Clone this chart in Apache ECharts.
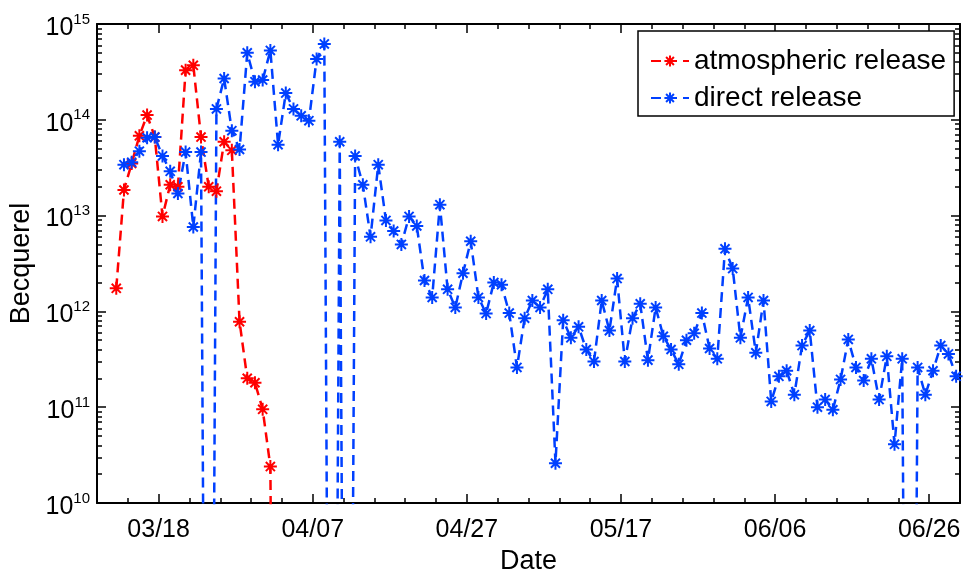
<!DOCTYPE html>
<html>
<head>
<meta charset="utf-8">
<script src="https://cdn.jsdelivr.net/npm/echarts@6/dist/echarts.min.js"></script>
<style>
  html, body { margin: 0; padding: 0; background: #fff; }
  #chart { width: 964px; height: 576px; }
</style>
</head>
<body>
<div id="chart"></div>
<script>
// daily values in Bq, first value on the start date; 1 = nothing measurable (falls off the axis)
const atmStart = '2011-03-12'
const atmValues = [1.74e12, 1.85e13, 3.5e13, 6.8e13, 1.12e14, 6.6e13, 9.8e12, 2.1e13, 2.0e13, 3.3e14,
  3.7e14, 6.6e13, 2.0e13, 1.8e13, 5.9e13, 4.8e13, 7.8e11, 2.0e11, 1.8e11, 9.5e10, 2.4e10, 1]

const dirStart = '2011-03-13'
const dirMar = [3.4e13, 3.6e13, 4.7e13, 6.5e13, 6.6e13, 4.2e13, 2.9e13, 1.7e13, 4.6e13, 7.6e12,
  4.6e13, 1, 1.3e14, 2.7e14, 7.7e13, 4.9e13, 5.0e14, 2.5e14, 2.6e14]
const dirApr = [5.3e14, 5.5e13, 1.9e14, 1.3e14, 1.1e14, 9.8e13, 4.3e14, 6.2e14, 1, 5.9e13,
  1, 4.2e13, 2.1e13, 6.0e12, 3.4e13, 8.9e12, 6.9e12, 5.0e12, 9.8e12, 7.8e12,
  2.1e12, 1.4e12, 1.3e13, 1.7e12, 1.1e12, 2.5e12, 5.4e12, 1.4e12, 9.5e11, 2.0e12]
const dirMay = [1.9e12, 9.6e11, 2.6e11, 8.5e11, 1.3e12, 1.1e12, 1.7e12, 2.6e10, 8.1e11, 5.3e11,
  6.9e11, 4.0e11, 3.0e11, 1.3e12, 6.3e11, 2.2e12, 3.0e11, 8.5e11, 1.2e12, 3.1e11,
  1.1e12, 5.5e11, 4.0e11, 2.8e11, 5.0e11, 5.9e11, 9.6e11, 4.1e11, 3.2e11, 4.5e12, 2.8e12]
const dirJun = [5.3e11, 1.4e12, 3.7e11, 1.3e12, 1.15e11, 2.1e11, 2.4e11, 1.35e11, 4.4e11, 6.3e11,
  1.0e11, 1.2e11, 9.4e10, 1.95e11, 5.1e11, 2.6e11, 1.9e11, 3.2e11, 1.2e11, 3.4e11,
  4.1e10, 3.2e11, 1, 2.6e11, 1.35e11, 2.4e11, 4.4e11, 3.6e11, 2.1e11]

// x axis is in days after 03/18
const tickDays = [0, 20, 40, 60, 80, 100]
const tickLabels = ['03/18', '04/07', '04/27', '05/17', '06/06', '06/26']

const refDay = Date.parse('2011-03-18')
const toPoints = (start, values) => {
  const d0 = (Date.parse(start) - refDay) / 864e5
  return values.map((v, i) => [d0 + i + 0.5, v])
}

// minor log ticks (2..9 per decade), in log10 units
const minorY = []
for (let d = 10; d < 15; d++) {
  for (let k = 2; k < 10; k++) minorY.push(d + Math.log10(k))
}

const font = 'Liberation Sans, Arial, sans-serif'
const black = { color: '#000', width: 2 }
const tickStyle = { color: '#000', width: 1.5 }
const star = 'path://M5,0L5,10M0,5L10,5M1.5,1.5L8.5,8.5M1.5,8.5L8.5,1.5'

const xBase = { type: 'value', min: -8, max: 104, splitLine: { show: false } }
const majorX = (pos, labels) => ({
  ...xBase,
  position: pos,
  axisLine: { show: true, onZero: false, lineStyle: black },
  axisTick: { show: true, inside: true, length: 9, customValues: tickDays, lineStyle: tickStyle },
  axisLabel: labels ? {
    show: true, customValues: tickDays, margin: 15,
    color: '#000', fontFamily: font, fontSize: 25,
    formatter: v => tickLabels[tickDays.indexOf(v)]
  } : { show: false }
})
const minorX = pos => ({
  ...xBase,
  position: pos,
  interval: 4,
  axisLine: { show: false, onZero: false },
  axisTick: { show: true, inside: true, length: 5, lineStyle: tickStyle },
  axisLabel: { show: false }
})

const majorY = (pos, labels) => ({
  type: 'log',
  logBase: 10,
  min: 1e10,
  max: 1e15,
  position: pos,
  splitLine: { show: false },
  axisLine: { show: true, onZero: false, lineStyle: black },
  axisTick: { show: true, inside: true, length: 9, lineStyle: tickStyle },
  axisLabel: labels ? {
    show: true, margin: 7, color: '#000', fontFamily: font,
    formatter: v => '{b|10}{s|' + Math.round(Math.log10(v)) + '}',
    rich: {
      b: { fontSize: 25, lineHeight: 32, padding: [8, 0, 0, 0], fontFamily: font, color: '#000' },
      s: { fontSize: 15, lineHeight: 15, padding: [4, 0, 0, 0], verticalAlign: 'top', fontFamily: font, color: '#000' }
    }
  } : { show: false }
})
const minorYAxis = pos => ({
  type: 'value',
  min: 10,
  max: 15,
  position: pos,
  splitLine: { show: false },
  axisLine: { show: false, onZero: false },
  axisTick: { show: true, inside: true, length: 5, customValues: minorY, lineStyle: tickStyle },
  axisLabel: { show: false }
})

const lineSeries = (name, color, data) => ({
  name: name,
  type: 'line',
  xAxisIndex: 0,
  yAxisIndex: 0,
  data: data,
  symbol: star,
  symbolSize: 13,
  showAllSymbol: true,
  itemStyle: { color: color, borderColor: color, borderWidth: 2 },
  lineStyle: { color: color, width: 2.5, type: [10, 6] },
  emphasis: { disabled: true }
})

const chart = echarts.init(document.getElementById('chart'))
chart.setOption({
  backgroundColor: '#fff',
  animation: false,
  grid: { left: 97, right: 4, top: 24, bottom: 73, outerBoundsMode: 'none' },
  legend: {
    orient: 'vertical',
    left: 638,
    top: 31,
    padding: [15, 8, 3, 12],
    itemGap: 7,
    itemWidth: 38,
    itemHeight: 14,
    borderColor: '#000',
    borderWidth: 1.5,
    backgroundColor: '#fff',
    textStyle: { color: '#000', fontFamily: font, fontSize: 28, lineHeight: 30 },
    data: ['atmospheric release', 'direct release']
  },
  xAxis: [
    { ...majorX('bottom', true), name: 'Date', nameLocation: 'middle', nameGap: 37,
      nameTextStyle: { color: '#000', fontFamily: font, fontSize: 27 } },
    minorX('bottom'),
    majorX('top', false),
    minorX('top')
  ],
  yAxis: [
    { ...majorY('left', true), name: 'Becquerel', nameLocation: 'middle', nameGap: 56,
      nameTextStyle: { color: '#000', fontFamily: font, fontSize: 27 } },
    minorYAxis('left'),
    majorY('right', false),
    minorYAxis('right')
  ],
  series: [
    lineSeries('atmospheric release', '#ff0000', toPoints(atmStart, atmValues)),
    lineSeries('direct release', '#0040ff', toPoints(dirStart, dirMar.concat(dirApr, dirMay, dirJun)))
  ]
})
</script>
</body>
</html>
